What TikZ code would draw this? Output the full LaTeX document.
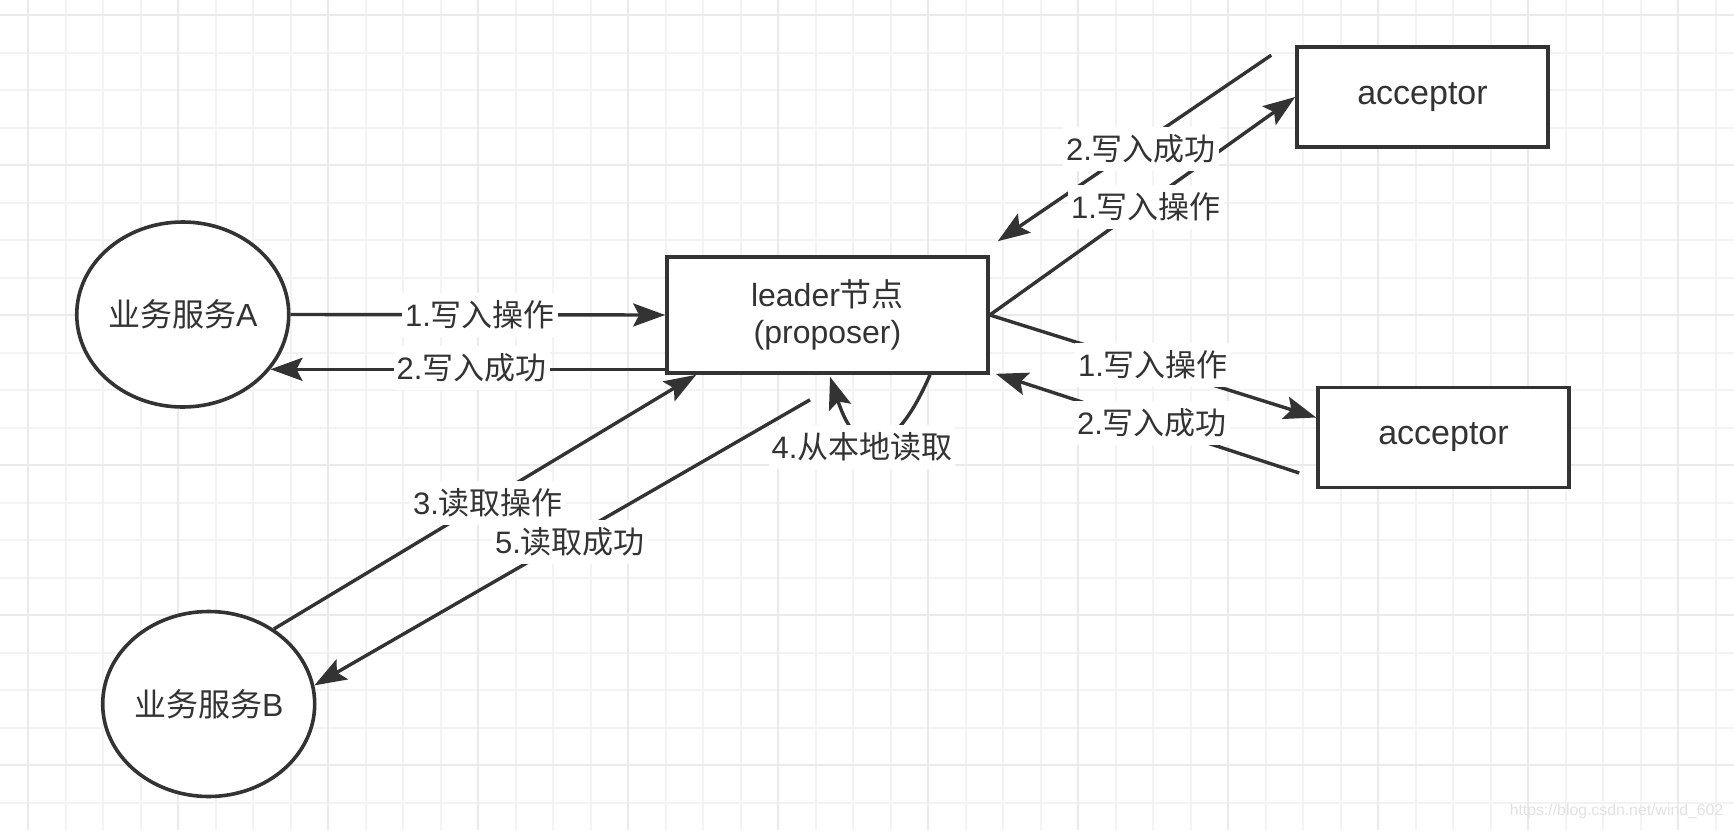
\documentclass[tikz,border=0pt]{standalone}
\usepackage{fontspec}
\setmainfont{Liberation Sans}
\newfontfamily\cjk{Noto Sans CJK SC}
\usetikzlibrary{arrows.meta,shapes.geometric,calc}
\definecolor{ink}{RGB}{51,51,51}
\definecolor{gridminor}{RGB}{243,243,243}
\definecolor{gridmajor}{RGB}{234,234,234}
\definecolor{wmark}{RGB}{226,226,226}
\newcommand{\zh}[1]{{\cjk #1}}
\begin{document}
\begin{tikzpicture}[x=0.5pt,y=-0.5pt,
  every node/.style={text=ink},
  boxnode/.style={draw=ink, line width=1.8pt, fill=white, rectangle, inner sep=0pt,
    font=\fontsize{16}{18.5}\selectfont, align=center},
  roundnode/.style={draw=ink, line width=1.8pt, fill=white, ellipse, inner sep=0pt,
    minimum width=106pt, minimum height=92.5pt, font=\fontsize{16}{19}\selectfont},
  conn/.style={draw=ink, line width=1.7pt},
  arr/.style={conn, -{Stealth[length=16pt,width=11.5pt,inset=3pt]}},
  lbl/.style={fill=white, inner xsep=1.5pt, inner ysep=4pt, font=\fontsize{15.5}{18}\selectfont},
  gmin/.style={draw=gridminor, line width=1pt},
  gmaj/.style={draw=gridmajor, line width=1.2pt},
]
\useasboundingbox (0,0) rectangle (1734,830);
\fill[white] (0,0) rectangle (1734,830);
% grid
\foreach \i in {0,...,45} \draw[gmin] ({28+37.5*\i},0) -- ({28+37.5*\i},830);
\foreach \j in {0,...,21} \draw[gmin] (0,{15+37.5*\j}) -- (1734,{15+37.5*\j});
\foreach \i in {0,...,11} \draw[gmaj] ({28+150*\i},0) -- ({28+150*\i},830);
\foreach \j in {0,...,5} \draw[gmaj] (0,{15+150*\j}) -- (1734,{15+150*\j});

% nodes
\node[roundnode] (A) at (182.75,314.5) {\zh{业务服务}A};
\node[roundnode] (B) at (208.7,704) {\zh{业务服务}B};
\node[boxnode, minimum width=160.5pt, minimum height=58pt] (L) at (827.5,315) {leader\zh{节点}\\(proposer)};
\node[boxnode, minimum width=125.5pt, minimum height=50pt, font=\fontsize{17}{20}\selectfont] (P1) at (1422.5,97) {acceptor};
\node[boxnode, minimum width=125.5pt, minimum height=50pt, font=\fontsize{17}{20}\selectfont] (P2) at (1443.5,437.5) {acceptor};

% free ends
\coordinate (u2s) at ($(P1.north west)+(-24,10)$);
\coordinate (u2e) at ($(L.north east)+(8,-14)$);
\coordinate (d1e) at ($(P2.west)+(0,-20)$);
\coordinate (d2s) at ($(P2.west)+(-17,35.5)$);
\coordinate (d2e) at ($(L.south east)+(6,-1)$);
\coordinate (b3e) at ($(L.south west)+(31,0)$);
\coordinate (b5s) at ($(L.south)+(-17.5,25)$);
\coordinate (l4s) at ($(L.south)+(102.5,0)$);
\coordinate (l4e) at ($(L.south)+(2.5,2)$);

% connectors
\draw[arr] (A.east) -- (L.west);
\draw[arr] (L.west |- A.-32) -- (A.-32);
\draw[arr] (L.east) -- (P1.west);
\draw[arr] (u2s) -- (u2e);
\draw[arr] (L.east) -- (d1e);
\draw[arr] (d2s) -- (d2e);
\draw[arr] (B.49) -- (b3e);
\draw[arr] (b5s) -- (B.10);
\draw[arr] (l4s) .. controls ($(l4s)+(-36,83)$) and ($(l4e)+(28,85)$) .. (l4e);

% labels
\node[lbl] (tA1) at (480,315) {1.\zh{写入操作}};
\node[lbl] (tA2) at (471.6,368) {2.\zh{写入成功}};
\node[lbl] (tU2) at (1141,149) {2.\zh{写入成功}};
\node[lbl] (tU1) at (1146,207) {1.\zh{写入操作}};
\node[lbl] (tD1) at (1153,365) {1.\zh{写入操作}};
\node[lbl] (tD2) at (1152,423) {2.\zh{写入成功}};
\node[lbl] (tB3) at (488,503) {3.\zh{读取操作}};
\node[lbl] (tB5) at (570,542) {5.\zh{读取成功}};
\node[lbl] (tL4) at (862,447) {4.\zh{从本地读取}};

% watermark
\node[font=\fontsize{7.9}{9}\selectfont, text=wmark, inner sep=0pt] (wm) at (1616.5,811.7) {https://blog.csdn.net/wind\_602};
\end{tikzpicture}
\end{document}
